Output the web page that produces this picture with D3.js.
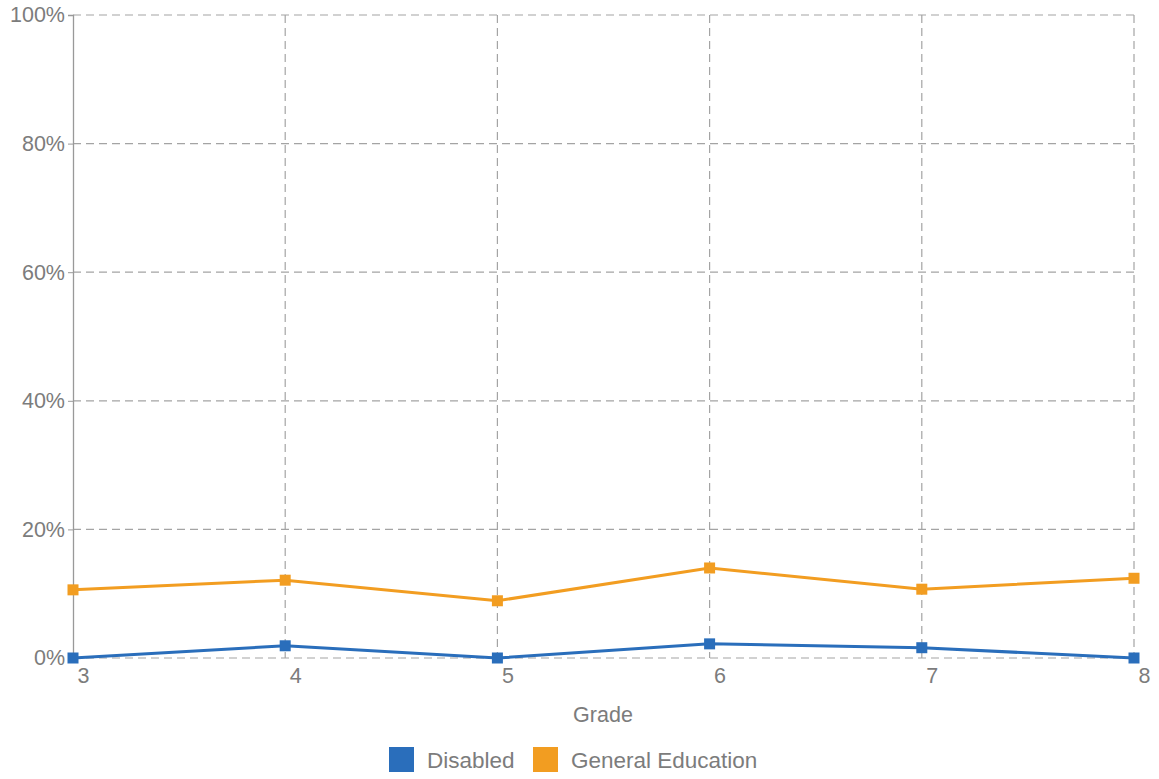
<!DOCTYPE html>
<html>
<head>
<meta charset="utf-8">
<script src="https://cdn.jsdelivr.net/npm/d3@7"></script>
<style>
  html, body { margin: 0; padding: 0; background: #fff; overflow: hidden; }
  svg { display: block; font-family: "Liberation Sans", Arial, Helvetica, sans-serif; }
</style>
</head>
<body>
<svg id="chart" width="1159" height="779"></svg>
<script>
// Grades on the x axis
const grades = ["3", "4", "5", "6", "7", "8"];
// Share of students per group (percent)
const disabled = [0, 1.9, 0, 2.2, 1.6, 0];
const generalEducation = [10.6, 12.1, 8.9, 14.0, 10.7, 12.4];
const yTicks = [0, 20, 40, 60, 80, 100];
const seriesNames = ["Disabled", "General Education"];
const seriesColors = ["#2a6ebb", "#f29d21"];

const svg = d3.select("#chart");
const margin = { left: 73, right: 25, top: 15, bottom: 121 };
const W = 1159, H = 779;

const x = d3.scalePoint().domain(grades).range([margin.left, W - margin.right]);
const y = d3.scaleLinear().domain([0, 100]).range([H - margin.bottom, margin.top]);

const gridColor = "#a4a4a4";
const textColor = "#7c7c7c";

// Horizontal grid
svg.append("g")
  .selectAll("line")
  .data(yTicks)
  .join("line")
  .attr("x1", margin.left).attr("x2", W - margin.right)
  .attr("y1", d => y(d)).attr("y2", d => y(d))
  .attr("stroke", gridColor)
  .attr("stroke-width", 1.2)
  .attr("stroke-dasharray", "8,5");

// Vertical grid
svg.append("g")
  .selectAll("line")
  .data(grades.slice(1))
  .join("line")
  .attr("x1", d => x(d)).attr("x2", d => x(d))
  .attr("y1", margin.top).attr("y2", H - margin.bottom)
  .attr("stroke", gridColor)
  .attr("stroke-width", 1.2)
  .attr("stroke-dasharray", "8,5");

// Y axis
const yAxis = svg.append("g")
  .attr("transform", `translate(${margin.left},0)`)
  .call(d3.axisLeft(y).tickValues(yTicks).tickFormat(d => d + "%").tickSize(5).tickPadding(3));
yAxis.select(".domain").attr("stroke", "#999").attr("stroke-width", 1.3);
yAxis.selectAll(".tick line").attr("stroke", "#999");
yAxis.selectAll(".tick text")
  .attr("fill", textColor)
  .attr("font-size", 21.5)
  .attr("font-family", "'Liberation Sans', Arial, sans-serif");

// X axis
const xAxis = svg.append("g")
  .attr("transform", `translate(0,${H - margin.bottom})`)
  .call(d3.axisBottom(x).tickSize(0).tickPadding(10));
xAxis.select(".domain").remove();
xAxis.selectAll(".tick text")
  .attr("fill", textColor)
  .attr("font-size", 21.5)
  .attr("dx", 10)
  .attr("font-family", "'Liberation Sans', Arial, sans-serif");

// X axis title
svg.append("text")
  .attr("x", 603)
  .attr("y", 722)
  .attr("text-anchor", "middle")
  .attr("fill", textColor)
  .attr("font-size", 21.5)
  .text("Grade");

// Lines and square markers
const allSeries = [disabled, generalEducation];
const line = d3.line().x((d, i) => x(grades[i])).y(d => y(d));

allSeries.forEach((vals, si) => {
  svg.append("path")
    .datum(vals)
    .attr("fill", "none")
    .attr("stroke", seriesColors[si])
    .attr("stroke-width", 3)
    .attr("d", line);
  svg.append("g")
    .selectAll("rect")
    .data(vals)
    .join("rect")
    .attr("x", (d, i) => x(grades[i]) - 5.5)
    .attr("y", d => y(d) - 5.5)
    .attr("width", 11)
    .attr("height", 11)
    .attr("fill", seriesColors[si]);
});

// Legend
const legendItems = [
  { name: seriesNames[0], color: seriesColors[0], x: 389 },
  { name: seriesNames[1], color: seriesColors[1], x: 533 }
];
const lg = svg.append("g");
legendItems.forEach(it => {
  lg.append("rect")
    .attr("x", it.x).attr("y", 747)
    .attr("width", 25).attr("height", 25)
    .attr("fill", it.color);
  lg.append("text")
    .attr("x", it.x + 38).attr("y", 768)
    .attr("fill", textColor)
    .attr("font-size", 22.5)
    .text(it.name);
});
</script>
</body>
</html>
